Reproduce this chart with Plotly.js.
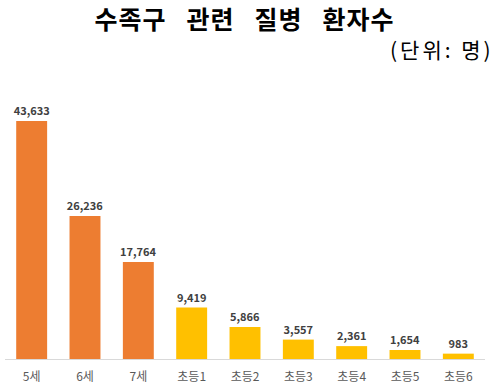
<!DOCTYPE html>
<html><head><meta charset="utf-8">
<script src="https://cdn.plot.ly/plotly-3.0.1.min.js"></script>
<style>body{margin:0;background:#fff}#c{width:499px;height:391px}
.annotation-text{letter-spacing:3px}
.gtitle{letter-spacing:1px}
</style>
</head><body><div id="c"></div>
<script>
const categories = ["5세","6세","7세","초등1","초등2","초등3","초등4","초등5","초등6"];
const patients = [43633, 26236, 17764, 9419, 5866, 3557, 2361, 1654, 983];
const barColors = ["#ED7D31","#ED7D31","#ED7D31","#FFC000","#FFC000","#FFC000","#FFC000","#FFC000","#FFC000"];
const titleText = "수족구\u00a0\u00a0\u00a0관련\u00a0\u00a0\u00a0질병\u00a0\u00a0\u00a0환자수";
const unitText = "(단위:\u00a0명)";

const font = "'Noto Sans CJK KR', 'Noto Sans', sans-serif";
Plotly.newPlot('c', [{
  type: 'bar',
  x: categories,
  y: patients,
  marker: {color: barColors},
  texttemplate: '%{y:,}',
  textposition: 'outside',
  constraintext: 'none',
  cliponaxis: false,
  textfont: {family: font, size: 11, color: '#404040', weight: 'bold'},
  hoverinfo: 'skip'
}], {
  width: 499, height: 391,
  margin: {l: 5, r: 14, t: 100, b: 32},
  paper_bgcolor: '#fff', plot_bgcolor: '#fff',
  bargap: 0.42,
  showlegend: false,
  title: {text: titleText, x: 0.49, xanchor: 'center', y: 0.948, yanchor: 'middle',
          font: {family: font, size: 25, color: '#000', weight: 'bold'}},
  annotations: [{text: unitText, xref: 'paper', yref: 'paper', x: 1.022, xanchor: 'right',
                 y: 1.195, yanchor: 'middle', showarrow: false,
                 font: {family: font, size: 21, color: '#000'}}],
  xaxis: {showline: true, linecolor: '#d9d9d9', linewidth: 1, ticks: '',
          ticklabelstandoff: 7,
          tickfont: {family: font, size: 12, color: '#595959'}, fixedrange: true},
  yaxis: {range: [0, 47480], visible: false, showgrid: false, zeroline: false, fixedrange: true}
}, {displayModeBar: false, staticPlot: true});
</script></body></html>
